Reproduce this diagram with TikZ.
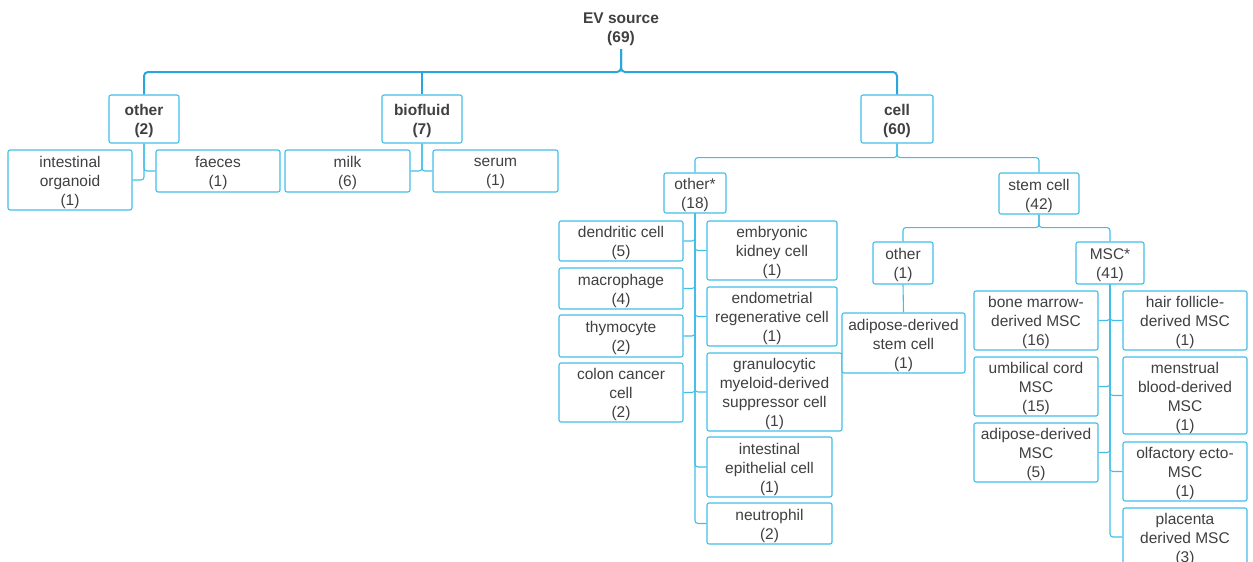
\documentclass[tikz,border=0pt]{standalone}
\usepackage{fontspec}
\setmainfont{Liberation Sans}
\definecolor{boxc}{RGB}{66,190,232}
\definecolor{linec}{RGB}{66,190,232}
\definecolor{rootc}{RGB}{42,165,222}
\definecolor{txt}{RGB}{64,64,64}
\tikzset{
  bx/.style={draw=boxc, line width=1.1pt, rounded corners=2pt, fill=white, inner sep=0pt},
  lbl/.style={align=center, text=txt, inner sep=0pt, yshift=-2pt, font=\fontsize{15.5}{19}\selectfont},
  lblb/.style={lbl, font=\fontsize{15.5}{19}\selectfont\bfseries},
  conn/.style={draw=linec, line width=1.1pt, rounded corners=3pt},
  rootl/.style={draw=rootc, line width=2pt, rounded corners=4pt},
}
\newcommand\bxx[7][lbl]{\node[bx, minimum width={#5-#3}, minimum height={#6-#4}, label={[#1]center:{#7}}] (#2) at ({(#3+#5)/2},{(#4+#6)/2}) {};}
\begin{document}
\begin{tikzpicture}[x=1pt,y=-1pt]
\useasboundingbox (0,0) rectangle (1253,562);
% root
\node[text=txt, align=center, font=\fontsize{15.5}{19}\selectfont\bfseries, inner ysep=3pt] (root) at (621,29.5) {EV source\\(69)};
% level 1
\bxx[lblb]{o1}{109}{95}{179}{143}{other\\(2)}
\bxx[lblb]{bio}{382}{95}{462}{143}{biofluid\\(7)}
\bxx[lblb]{cell}{861}{95}{933}{143}{cell\\(60)}
% other children
\bxx{io}{8}{150}{132}{210}{intestinal\\organoid\\(1)}
\bxx{fa}{156}{150}{280}{192}{faeces\\(1)}
% biofluid children
\bxx{mi}{285}{150}{410}{192}{milk\\(6)}
\bxx{se}{433}{150}{558}{192}{serum\\(1)}
% cell children
\bxx{oth}{664}{173}{726}{213}{other*\\(18)}
\bxx{sc}{999}{173}{1079}{214}{stem cell\\(42)}
% other* children left
\bxx{dc}{559}{221}{683}{261}{dendritic cell\\(5)}
\bxx{mp}{559}{268}{683}{309}{macrophage\\(4)}
\bxx{th}{559}{315}{683}{357}{thymocyte\\(2)}
\bxx{cc}{559}{363}{683}{422}{colon cancer\\cell\\(2)}
% other* children right
\bxx{ek}{707}{221}{837}{280}{embryonic\\kidney cell\\(1)}
\bxx{er}{707}{287}{837}{346}{endometrial\\regenerative cell\\(1)}
\bxx{gm}{707}{353}{842}{431}{granulocytic\\myeloid-derived\\suppressor cell\\(1)}
\bxx{ie}{707}{437}{832}{497}{intestinal\\epithelial cell\\(1)}
\bxx{ne}{707}{503}{832}{544}{neutrophil\\(2)}
% stem cell children
\bxx{os}{873}{242}{933}{284}{other\\(1)}
\bxx{msc}{1076}{242}{1144}{284}{MSC*\\(41)}
\bxx{asc}{842}{313}{965}{373}{adipose-derived\\stem cell\\(1)}
% MSC children left
\bxx{bm}{974}{291}{1098}{350}{bone marrow-\\derived MSC\\(16)}
\bxx{uc}{974}{357}{1098}{416}{umbilical cord\\MSC\\(15)}
\bxx{am}{974}{423}{1098}{482}{adipose-derived\\MSC\\(5)}
% MSC children right
\bxx{hf}{1123}{291}{1247}{350}{hair follicle-\\derived MSC\\(1)}
\bxx{mb}{1123}{357}{1247}{434}{menstrual\\blood-derived\\MSC\\(1)}
\bxx{ol}{1123}{442}{1247}{501}{olfactory ecto-\\MSC\\(1)}
\bxx{pl}{1123}{508}{1247}{566}{placenta\\derived MSC\\(3)}
% root connectors
\coordinate (j0) at (621,72);
\draw[rootl] (root.south) |- (o1.north |- j0) -- (o1.north);
\draw[rootl] (root.south) |- (cell.north |- j0) -- (cell.north);
\draw[rootl, line width=1.6pt] (bio.north) -- (bio.north |- j0);
% other
\draw[conn] (o1.south) |- (io.east);
\draw[conn] (o1.south) |- (fa.west);
% biofluid
\draw[conn] (bio.south) |- (mi.east);
\draw[conn] (bio.south) |- (se.west);
% cell
\draw[conn] (cell.south) -- ++(0,14) -| (oth.north);
\draw[conn] (cell.south) -- ++(0,14) -| (sc.north);
% other*
\foreach \c in {dc,mp,th,cc} {\draw[conn] (oth.south) |- (\c.east);}
\foreach \c in {ek,er,gm,ie,ne} {\draw[conn] (oth.south) |- (\c.west);}
% stem cell
\draw[conn] (sc.south) -- ++(0,13) -| (os.north);
\draw[conn] (sc.south) -- ++(0,13) -| (msc.north);
\draw[conn] (os.south) -- (asc.north);
% MSC*
\foreach \c in {bm,uc,am} {\draw[conn] (msc.south) |- (\c.east);}
\foreach \c in {hf,mb,ol,pl} {\draw[conn] (msc.south) |- (\c.west);}
\end{tikzpicture}
\end{document}
